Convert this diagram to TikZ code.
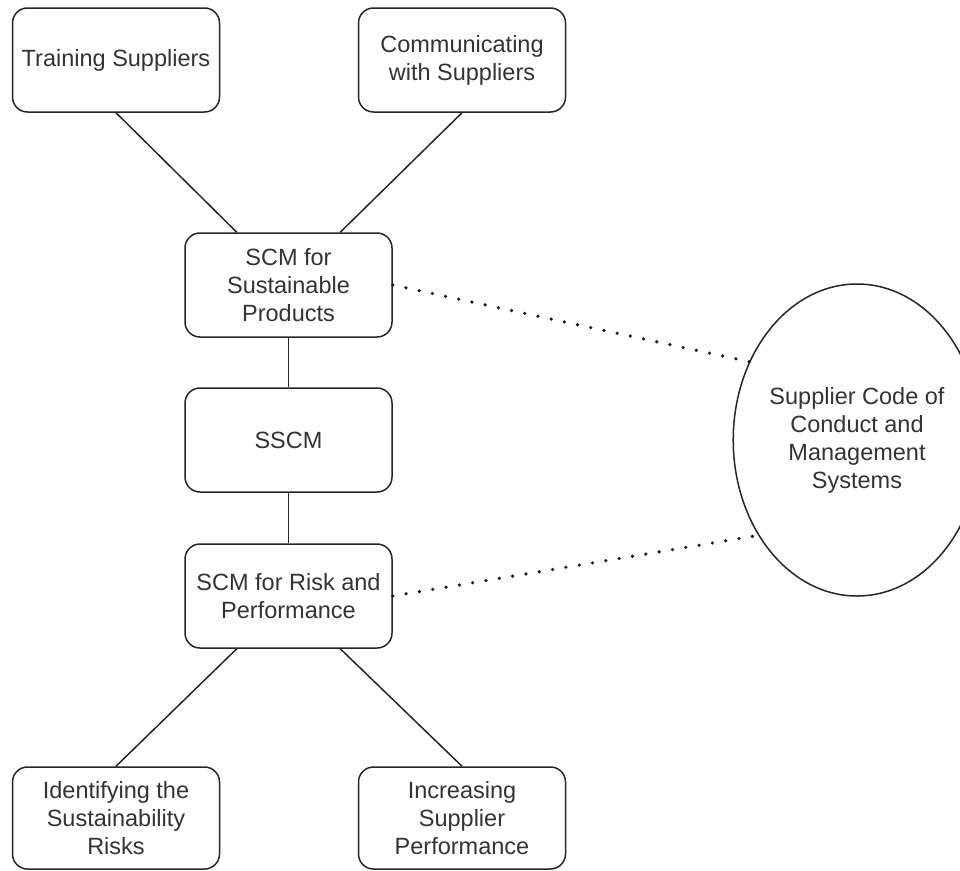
\documentclass[tikz,border=0pt]{standalone}
\usepackage{fontspec}
\setmainfont{Liberation Sans}
\usetikzlibrary{shapes.geometric}
\begin{document}
\begin{tikzpicture}[x=1pt,y=-1pt,
  box/.style={draw=black!85, line width=1.5pt, rounded corners=15pt, minimum width=207pt, minimum height=104pt, align=center, inner sep=2pt, text=black!80, font=\fontsize{23.5pt}{28pt}\selectfont},
  oval/.style={ellipse, draw=black!85, line width=1.5pt, minimum width=230pt, minimum height=312pt, inner sep=0pt, align=center, text=black!80, font=\fontsize{23.5pt}{28pt}\selectfont},
  link/.style={draw=black!85, line width=1.5pt},
  dotlink/.style={draw=black!90, line width=3.6pt, line cap=round, dash pattern=on 0pt off 13.5pt}]
\useasboundingbox (0,0) rectangle (960,870);
\node[box] (tr) at (116,60) {Training Suppliers};
\node[box] (com) at (462,60) {Communicating\\with Suppliers};
\node[box] (scm) at (288.5,285) {SCM for\\Sustainable\\Products};
\node[box] (sscm) at (288.5,440) {SSCM};
\node[box] (risk) at (288.5,596) {SCM for Risk and\\Performance};
\node[box, minimum height=102pt] (id) at (116,818) {Identifying the\\Sustainability\\Risks};
\node[box, minimum height=102pt] (inc) at (462,818) {Increasing\\Supplier\\Performance};
\node[oval] (code) at (857,440) {Supplier Code of\\Conduct and\\Management\\Systems};
\draw[link] (tr.south) -- ([xshift=-51.75pt]scm.north);
\draw[link] (com.south) -- ([xshift=51.75pt]scm.north);
\draw[link] (scm.south) -- (sscm.north);
\draw[link] (sscm.south) -- (risk.north);
\draw[link] ([xshift=-51.75pt]risk.south) -- (id.north);
\draw[link] ([xshift=51.75pt]risk.south) -- (inc.north);
\draw[dotlink] (scm.east) -- (code.144);
\draw[dotlink] (risk.east) -- (code.224);
\end{tikzpicture}
\end{document}
